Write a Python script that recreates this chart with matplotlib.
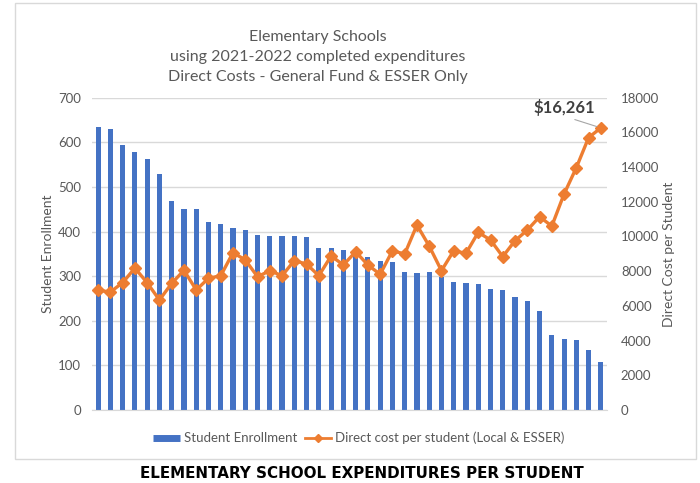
import numpy as np
import matplotlib
matplotlib.use("Agg")
from matplotlib import pyplot as plt
from matplotlib.patches import Rectangle
from matplotlib.lines import Line2D

# student enrollment per school (sorted high to low)
enrollment = [634, 630, 593, 578, 563, 530, 469, 451, 451, 422, 416, 407, 403, 393,
              390, 390, 389, 387, 364, 362, 359, 353, 342, 335, 332, 309, 308, 309,
              298, 288, 285, 282, 272, 269, 253, 244, 223, 167, 160, 157, 135, 108]
# direct cost per student (local & ESSER)
cost = [6900, 6800, 7340, 8180, 7330, 6340, 7300, 8050, 6920, 7590, 7740, 9070, 8650, 7680,
        8030, 7740, 8610, 8410, 7740, 8880, 8360, 9120, 8360, 7820, 9180, 8990, 10660, 9450,
        8030, 9180, 9030, 10240, 9800, 8840, 9760, 10370, 11140, 10600, 12450, 13970, 15700, 16261]
left_ticks = [0, 100, 200, 300, 400, 500, 600, 700]
right_ticks = [0, 2000, 4000, 6000, 8000, 10000, 12000, 14000, 16000, 18000]

plt.rcParams['font.family'] = ['Lato', 'DejaVu Sans']
grey = '#595959'
blue = '#4472C4'
orange = '#ED7D31'

fig = plt.figure(figsize=(7, 4.83), dpi=100)
fig.patches.append(Rectangle((15/700, 1-459/483), 681/700, 456/483, transform=fig.transFigure,
                             fill=False, edgecolor='#d9d9d9', linewidth=1))

ax = fig.add_axes([92/700, 73/483, 515/700, 312.3/483])
x = np.arange(len(enrollment))
ax.bar(x, enrollment, width=0.42, color=blue, zorder=2)
ax.set_xlim(-0.5, len(enrollment) - 0.5)
ax.set_ylim(0, 700)
ax.set_yticks(left_ticks)
ax.set_xticks([])
ax.grid(axis='y', color='#d9d9d9', linewidth=1, zorder=0)
ax.set_axisbelow(True)
for s in ['top', 'left', 'right']:
    ax.spines[s].set_visible(False)
ax.spines['bottom'].set_color('#d9d9d9')
ax.tick_params(axis='y', length=0, labelsize=9.5, labelcolor=grey, pad=8)
ax.set_ylabel('Student Enrollment', fontsize=10, color=grey, labelpad=3)

ax2 = ax.twinx()
ax2.plot(x, cost, color=orange, linewidth=2.4, marker='D', markersize=6, zorder=3)
ax2.set_ylim(0, 18000)
ax2.set_yticks(right_ticks)
for s in ['top', 'left', 'right', 'bottom']:
    ax2.spines[s].set_visible(False)
ax2.tick_params(axis='y', length=0, labelsize=9.5, labelcolor=grey, pad=10)
ax2.set_ylabel('Direct Cost per Student', fontsize=10, color=grey, labelpad=3)

ax2.annotate('${:,}'.format(cost[-1]), xy=(x[-1], cost[-1]), xytext=(-26, 14.4),
             textcoords='offset points', fontsize=12, fontweight='bold', color='#404040',
             ha='center', va='center',
             arrowprops=dict(arrowstyle='-', color='#a6a6a6', linewidth=0.8,
                             shrinkA=1, shrinkB=3, relpos=(0.5, 0)))

fig.text(318/700, 1-57/483, 'Elementary Schools\nusing 2021-2022 completed expenditures\nDirect Costs - General Fund & ESSER Only',
         ha='center', va='center', fontsize=11.5, color=grey, linespacing=1.5)

handles = [Line2D([], [], color=blue, linewidth=5, solid_capstyle='butt'),
           Line2D([], [], color=orange, linewidth=2, marker='D', markersize=4)]
labels = ['Student Enrollment', 'Direct cost per student (Local & ESSER)']
fig.legend(handles, labels, loc='center', bbox_to_anchor=(359/700, 1-438/483), ncol=2,
           frameon=False, fontsize=9.5, labelcolor=grey, handlelength=2.0, columnspacing=0.6,
           handletextpad=0.3)

fig.text(362/700, 1-474/483, 'ELEMENTARY SCHOOL EXPENDITURES PER STUDENT', ha='center', va='center',
         fontsize=10.9, fontweight='bold', color='black', family=['DejaVu Sans'])

fig.savefig('out.png', dpi=100)
